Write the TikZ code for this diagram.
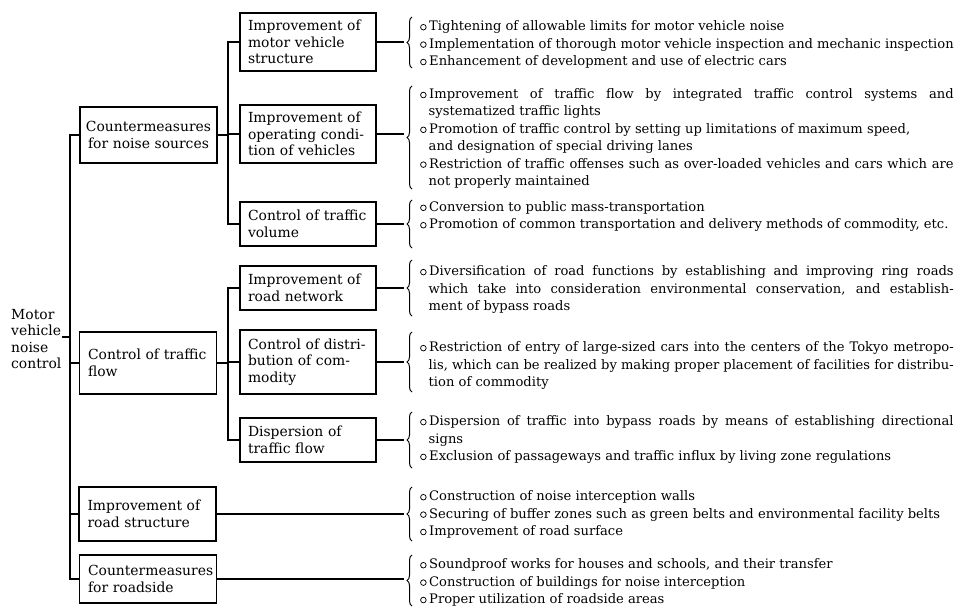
\documentclass[tikz,border=0pt]{standalone}
\usepackage{fontspec}
\setmainfont{DejaVu Serif}
\usetikzlibrary{decorations.pathreplacing}
\newcommand{\lstfnt}{\fontsize{13.1}{17.4}\selectfont}
\newcommand{\boxfnt}{\fontsize{13.9}{16.5}\selectfont}
\newcommand{\jus}[2][120pt]{\makebox[#1][s]{#2}}
\newcommand{\bul}{\makebox[9.5pt][l]{\hspace{0.5pt}\tikz[baseline=-3.5pt]\draw[line width=0.75pt] (0,0) circle (2.8pt);}}
\newcommand{\itm}[1]{\hangindent=9pt\hangafter=1\noindent\bul#1\par}
\newcommand{\lst}[1]{\parbox{534pt}{\lstfnt\hyphenpenalty=10000\tolerance=10000\parindent=0pt\relax #1}}
\tikzset{
  lone/.style={draw, line width=1.3pt, minimum width=137pt, text width=120pt, inner xsep=8.5pt, inner ysep=0pt, align=left, font=\boxfnt},
  ltwo/.style={draw, line width=1.3pt, minimum width=136pt, text width=120pt, inner xsep=8pt, inner ysep=0pt, align=left, font=\boxfnt},
  conn/.style={line width=1.7pt},
  brc/.style={decorate, decoration={brace, amplitude=5pt}, line width=1pt},
  lnode/.style={anchor=west, inner sep=0pt},
}
\begin{document}
\begin{tikzpicture}[x=1pt,y=-1pt]
\useasboundingbox (0,0) rectangle (969,615);
% root
\node[anchor=west, inner sep=0pt, align=left, font=\boxfnt] (root) at (11,339) {Motor\\vehicle\\noise\\control};
% level 1
\node[lone, minimum height=56pt, text width=128pt, inner xsep=4.5pt, align=center] (L1a) at (148.5,135) {Countermeasures\\\mbox{for noise sources}};
\node[lone, minimum height=62pt] (L1b) at (148,363) {\jus{Control of traffic}\\flow};
\node[lone, minimum height=54pt] (L1c) at (147.5,514) {\jus{Improvement of}\\road structure};
\node[lone, minimum height=48pt] (L1d) at (148,579) {Countermeasures\\for roadside};
% level 2
\node[ltwo, minimum height=58pt] (L2a) at (308,42) {\jus{Improvement of}\\motor vehicle\\structure};
\node[ltwo, minimum height=58pt] (L2b) at (308,134) {\jus{Improvement of}\\\jus{operating condi-}\\tion of vehicles};
\node[ltwo, minimum height=44pt] (L2c) at (308,224) {\jus{Control of traffic}\\volume};
\node[ltwo, minimum height=44pt] (L2d) at (308,288) {\jus{Improvement of}\\road network};
\node[ltwo, minimum height=64pt] (L2e) at (308,362) {\jus{Control of distri-}\\\jus{bution of com-}\\modity};
\node[ltwo, minimum height=44pt] (L2f) at (308,440) {\jus{Dispersion of}\\traffic flow};
% trunk
\coordinate (tr) at (70,0);
\coordinate (st) at (228,0);
\coordinate (tip) at (404,0);
\coordinate (rj) at (70,337);
\draw[conn] (root.east |- rj) -- (rj);
\draw[conn] (L1a.west) -- (L1a.west -| tr) -- (L1d.west -| tr) -- (L1d.west);
\draw[conn] (L1b.west) -- (L1b.west -| tr);
\draw[conn] (L1c.west) -- (L1c.west -| tr);
% sub-trunks
\draw[conn] (L1a.east) -- (L1a.east -| st);
\draw[conn] (L2a.west) -- (L2a.west -| st) -- (L2c.west -| st) -- (L2c.west);
\draw[conn] (L2b.west) -- (L2b.west -| st);
\draw[conn] (L1b.east) -- (L1b.east -| st);
\draw[conn] (L2d.west) -- (L2d.west -| st) -- (L2f.west -| st) -- (L2f.west);
\draw[conn] (L2e.west) -- (L2e.west -| st);
% to braces
\draw[conn] (L2a.east) -- (L2a.east -| tip);
\draw[conn] (L2b.east) -- (L2b.east -| tip);
\draw[conn] (L2c.east) -- (L2c.east -| tip);
\draw[conn] (L2d.east) -- (L2d.east -| tip);
\draw[conn] (L2e.east) -- (L2e.east -| tip);
\draw[conn] (L2f.east) -- (L2f.east -| tip);
\draw[conn] (L1c.east) -- (L1c.east -| tip);
\draw[conn] (L1d.east) -- (L1d.east -| tip);
% braces
\draw[brc] (412,68) -- (412,17);
\draw[brc] (412,189) -- (412,86);
\draw[brc] (412,248) -- (412,200);
\draw[brc] (412,316) -- (412,260);
\draw[brc] (412,392) -- (412,332);
\draw[brc] (412,468) -- (412,412);
\draw[brc] (412,541) -- (412,487);
\draw[brc] (412,606) -- (412,555);
% lists
\node[lnode] (tA) at (419.5,44.5) {\lst{%
\itm{Tightening of allowable limits for motor vehicle noise}
\itm{Implementation of thorough motor vehicle inspection and mechanic inspection}
\itm{Enhancement of development and use of electric cars}}};
\node[lnode] (tB) at (419.5,138.5) {\lst{%
\itm{Improvement of traffic flow by integrated traffic control systems and\linebreak systematized traffic lights}
\itm{Promotion of traffic control by setting up limitations of maximum speed,\newline and designation of special driving lanes}
\itm{Restriction of traffic offenses such as over-loaded vehicles and cars which are\linebreak not properly maintained}}};
\node[lnode] (tC) at (419.5,216.5) {\lst{%
\itm{Conversion to public mass-transportation}
\itm{Promotion of common transportation and delivery methods of commodity, etc.}}};
\node[lnode] (tD) at (419.5,289.5) {\lst{%
\itm{Diversification of road functions by establishing and improving ring roads\linebreak which take into consideration environmental conservation, and establish-\linebreak ment of bypass roads}}};
\node[lnode] (tE) at (419.5,365.5) {\lst{%
\itm{Restriction of entry of large-sized cars into the centers of the Tokyo metropo-\linebreak lis, which can be realized by making proper placement of facilities for distribu-\linebreak tion of commodity}}};
\node[lnode] (tF) at (419.5,439.5) {\lst{%
\itm{Dispersion of traffic into bypass roads by means of establishing directional\linebreak signs}
\itm{Exclusion of passageways and traffic influx by living zone regulations}}};
\node[lnode] (tG) at (419.5,514.5) {\lst{%
\itm{Construction of noise interception walls}
\itm{Securing of buffer zones such as green belts and environmental facility belts}
\itm{Improvement of road surface}}};
\node[lnode] (tH) at (419.5,582.5) {\lst{%
\itm{Soundproof works for houses and schools, and their transfer}
\itm{Construction of buildings for noise interception}
\itm{Proper utilization of roadside areas}}};
\end{tikzpicture}
\end{document}
